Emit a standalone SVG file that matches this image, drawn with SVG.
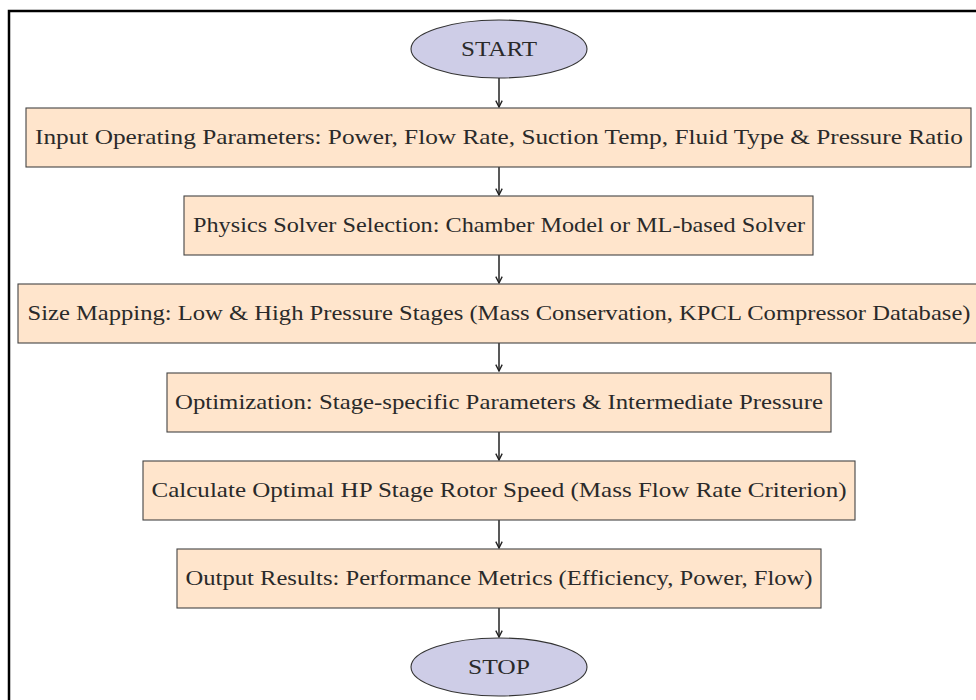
<svg xmlns="http://www.w3.org/2000/svg" width="976" height="700" viewBox="0 0 976 700">
<defs>
<style>
.box{fill:#FFE5CC;stroke:#444;stroke-width:1.1}
.term{fill:#CECDE7;stroke:#333;stroke-width:1.1}
.t{font-family:"Liberation Serif","DejaVu Serif",serif;font-size:21px;fill:#2a2a2a;text-anchor:middle}
.c{stroke:#222;stroke-width:1.5;fill:none;marker-end:url(#ah)}
</style>
<marker id="ah" viewBox="0 0 10 10" refX="9" refY="5" markerWidth="8" markerHeight="8" markerUnits="userSpaceOnUse" orient="auto">
<path d="M1,1 L9,5 L1,9" fill="none" stroke="#222" stroke-width="1.7"/>
</marker>
</defs>
<rect width="976" height="700" fill="#fff"/>
<rect x="9" y="11" width="1000" height="720" fill="none" stroke="#000" stroke-width="2.5"/>
<g id="connectors">
<line class="c" x1="499" y1="78" x2="499" y2="107"/>
<line class="c" x1="499" y1="167" x2="499" y2="195"/>
<line class="c" x1="499" y1="255" x2="499" y2="283"/>
<line class="c" x1="499" y1="343" x2="499" y2="371"/>
<line class="c" x1="499" y1="432" x2="499" y2="460"/>
<line class="c" x1="499" y1="520" x2="499" y2="548"/>
<line class="c" x1="499" y1="608" x2="499" y2="637"/>
</g>
<g id="start">
<ellipse class="term" cx="499" cy="49" rx="88" ry="29"/>
<text class="t" x="499" y="56" textLength="76" lengthAdjust="spacingAndGlyphs">START</text>
</g>
<g id="input">
<rect class="box" x="26" y="108" width="945" height="59"/>
<text class="t" x="499" y="144" textLength="928" lengthAdjust="spacingAndGlyphs">Input Operating Parameters: Power, Flow Rate, Suction Temp, Fluid Type &amp; Pressure Ratio</text>
</g>
<g id="solver">
<rect class="box" x="184" y="196" width="629" height="59"/>
<text class="t" x="499" y="232" textLength="612" lengthAdjust="spacingAndGlyphs">Physics Solver Selection: Chamber Model or ML-based Solver</text>
</g>
<g id="sizing">
<rect class="box" x="18" y="284" width="962" height="59"/>
<text class="t" x="499" y="320" textLength="943" lengthAdjust="spacingAndGlyphs">Size Mapping: Low &amp; High Pressure Stages (Mass Conservation, KPCL Compressor Database)</text>
</g>
<g id="optim">
<rect class="box" x="167" y="373" width="664" height="59"/>
<text class="t" x="499" y="409" textLength="648" lengthAdjust="spacingAndGlyphs">Optimization: Stage-specific Parameters &amp; Intermediate Pressure</text>
</g>
<g id="rotor">
<rect class="box" x="143" y="461" width="712" height="59"/>
<text class="t" x="499" y="497" textLength="695" lengthAdjust="spacingAndGlyphs">Calculate Optimal HP Stage Rotor Speed (Mass Flow Rate Criterion)</text>
</g>
<g id="output">
<rect class="box" x="177" y="549" width="644" height="59"/>
<text class="t" x="499" y="585" textLength="627" lengthAdjust="spacingAndGlyphs">Output Results: Performance Metrics (Efficiency, Power, Flow)</text>
</g>
<g id="stop">
<ellipse class="term" cx="499" cy="667" rx="88" ry="29"/>
<text class="t" x="499" y="674" textLength="62" lengthAdjust="spacingAndGlyphs">STOP</text>
</g>
</svg>
